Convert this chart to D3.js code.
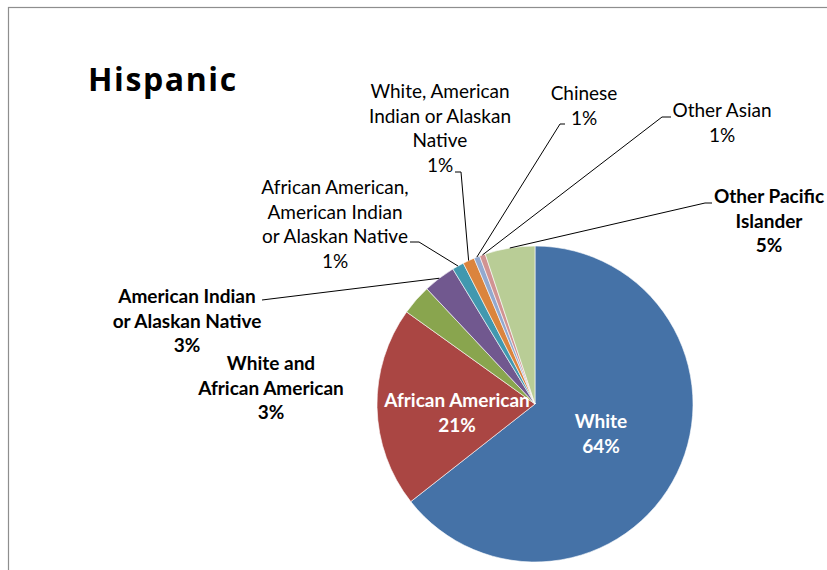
<!DOCTYPE html>
<html>
<head>
<meta charset="utf-8">
<script src="https://cdn.jsdelivr.net/npm/d3@7/dist/d3.min.js"></script>
<style>
  html, body { margin: 0; padding: 0; background: #fff; }
  svg { display: block; }
  text { font-family: Lato, "Open Sans", sans-serif; }
  text.title { font-family: "Open Sans", Lato, sans-serif; }
</style>
</head>
<body>
<svg id="chart" width="827" height="570"></svg>
<script>
// Hispanic population by race (percent)
const categories = [
  "White",
  "African American",
  "White and African American",
  "American Indian or Alaskan Native",
  "African American, American Indian or Alaskan Native",
  "White, American Indian or Alaskan Native",
  "Chinese",
  "Other Asian",
  "Other Pacific Islander"
];
const values = [64.4, 20.5, 3.1, 3.3, 1.2, 1.2, 0.6, 0.6, 5.1];
const colors = ["#4572A7", "#AA4643", "#89A54E", "#71588F", "#4198AF",
                "#DB843D", "#93A9CF", "#D19392", "#B9CD96"];

// Label text lines (category part) for each slice
const labelLines = [
  ["White"],
  ["African American"],
  ["White and", "African American"],
  ["American Indian", "or Alaskan Native"],
  ["African American,", "American Indian", "or Alaskan Native"],
  ["White, American", "Indian or Alaskan", "Native"],
  ["Chinese"],
  ["Other Asian"],
  ["Other Pacific", "Islander"]
];

// Label placement: centre x, first baseline, bold/white, leader elbow
const labelLayout = [
  { x: 601, y: 428, bold: true, fill: "#fff" },
  { x: 457, y: 407, bold: true, fill: "#fff" },
  { x: 271, y: 370, bold: true, fill: "#000" },
  { x: 187, y: 303, bold: true, fill: "#000", leader: [[262, 300], [270, 299]] },
  { x: 335, y: 194, bold: false, fill: "#000", leader: [[410, 242], [419, 242]] },
  { x: 440, y: 98, bold: false, fill: "#000", leader: [[455, 172], [461, 172]] },
  { x: 584, y: 100, bold: false, fill: "#000", leader: [[565, 124], [560, 124]] },
  { x: 722, y: 117, bold: false, fill: "#000", leader: [[671, 117], [662, 117]] },
  { x: 769, y: 203, bold: true, fill: "#000", leader: [[712, 203], [705, 203]] }
];

const lineGap = 24.6;
const svg = d3.select("#chart");

// Chart area frame
svg.append("rect")
  .attr("x", 8.5).attr("y", 7.5)
  .attr("width", 900).attr("height", 700)
  .attr("fill", "none")
  .attr("stroke", "#8e8e8e")
  .attr("stroke-width", 1.2);

// Title
svg.append("text")
  .attr("class", "title")
  .attr("x", 88).attr("y", 91)
  .attr("font-size", 32)
  .attr("font-weight", "bold")
  .attr("letter-spacing", 1.6)
  .attr("fill", "#000")
  .text("Hispanic");

const cx = 535, cy = 404, radius = 158;
const total = d3.sum(values);
const data = categories.map((c, i) => ({ name: c, value: values[i], i }));

const pie = d3.pie().value(d => d.value).sort(null);
const arcs = pie(data);
const arc = d3.arc().innerRadius(0).outerRadius(radius);
const rim = d3.arc().innerRadius(radius).outerRadius(radius);

const g = svg.append("g").attr("transform", `translate(${cx},${cy})`);

g.selectAll("path.slice")
  .data(arcs)
  .join("path")
  .attr("class", "slice")
  .attr("d", arc)
  .attr("fill", d => colors[d.data.i])
  .attr("stroke", "#fff")
  .attr("stroke-width", 0.6);

const pct = d3.format(".0%");

// Leader lines
arcs.forEach(d => {
  const lay = labelLayout[d.data.i];
  if (!lay.leader) return;
  const [px, py] = rim.centroid(d);
  const pts = lay.leader.concat([[cx + px, cy + py]]);
  svg.append("path")
    .attr("d", d3.line()(pts))
    .attr("fill", "none")
    .attr("stroke", "#000")
    .attr("stroke-width", 1);
});

// Labels
arcs.forEach(d => {
  const lay = labelLayout[d.data.i];
  const lines = labelLines[d.data.i].concat([pct(d.data.value / total)]);
  const t = svg.append("text")
    .attr("text-anchor", "middle")
    .attr("font-size", 19)
    .attr("font-weight", lay.bold ? "bold" : "normal")
    .attr("fill", lay.fill);
  lines.forEach((ln, k) => {
    t.append("tspan")
      .attr("x", lay.x)
      .attr("y", lay.y + k * lineGap)
      .text(ln);
  });
});
</script>
</body>
</html>
